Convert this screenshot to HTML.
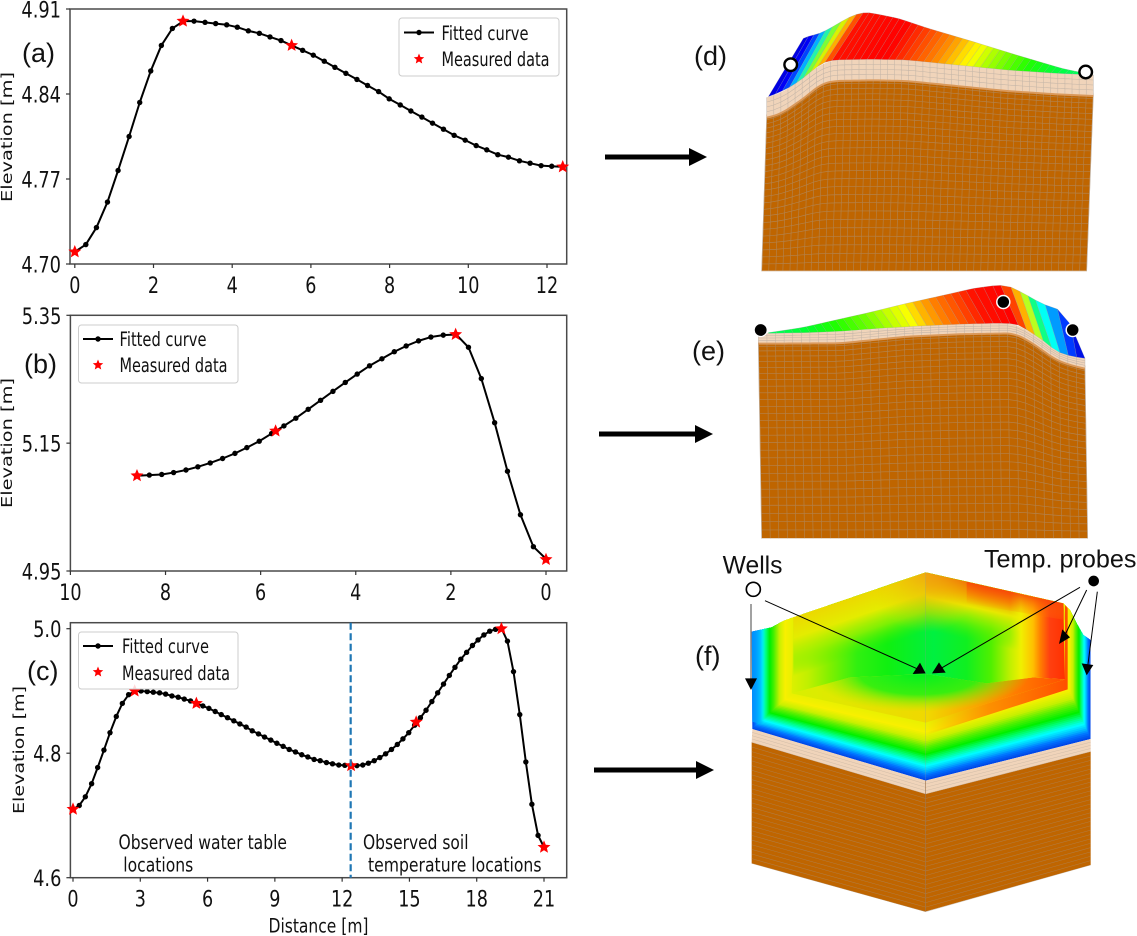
<!DOCTYPE html>
<html lang="en">
<head>
<meta charset="utf-8">
<title>Elevation profiles and 3D mesh</title>
<style>
html,body{margin:0;padding:0;background:#fff;width:1137px;height:936px;overflow:hidden}
svg{display:block}
.mpl{font-family:"DejaVu Sans","Liberation Sans",sans-serif;fill:#111}
.lab{font-family:"Liberation Sans",sans-serif;fill:#111}
</style>
</head>
<body>
<svg id="root" xmlns="http://www.w3.org/2000/svg" width="1137" height="936" viewBox="0 0 1137 936">
  <defs>
    <linearGradient id="backH" gradientUnits="userSpaceOnUse" x1="275" y1="0" x2="1095" y2="0">
      <stop offset="0" stop-color="#dcf000"/><stop offset="0.06" stop-color="#c0f000"/>
      <stop offset="0.14" stop-color="#80f000"/><stop offset="0.24" stop-color="#30f010"/>
      <stop offset="0.35" stop-color="#10f010"/><stop offset="0.52" stop-color="#00f040"/>
      <stop offset="0.64" stop-color="#10f020"/><stop offset="0.73" stop-color="#50f000"/>
      <stop offset="0.80" stop-color="#c0f000"/><stop offset="1" stop-color="#e8f000"/>
    </linearGradient>
    <linearGradient id="redWall" gradientUnits="userSpaceOnUse" x1="930" y1="0" x2="1095" y2="0">
      <stop offset="0" stop-color="#e8f000" stop-opacity="0"/><stop offset="0.2" stop-color="#f0f000"/>
      <stop offset="0.42" stop-color="#ffc000"/><stop offset="0.55" stop-color="#ff8000"/>
      <stop offset="0.72" stop-color="#ff4010"/><stop offset="1" stop-color="#ff3000"/>
    </linearGradient>
    <linearGradient id="rimRed" gradientUnits="userSpaceOnUse" x1="900" y1="147" x2="885" y2="212">
      <stop offset="0" stop-color="#f84808" stop-opacity="0.9"/><stop offset="1" stop-color="#ff8000" stop-opacity="0"/>
    </linearGradient>
    <linearGradient id="rimLeft" gradientUnits="userSpaceOnUse" x1="677" y1="97" x2="731" y2="256">
      <stop offset="0" stop-color="#ecd800"/><stop offset="0.35" stop-color="#e4ec00"/>
      <stop offset="0.65" stop-color="#a0f000" stop-opacity="0.75"/><stop offset="1" stop-color="#40f000" stop-opacity="0"/>
    </linearGradient>
    <linearGradient id="rimRight" gradientUnits="userSpaceOnUse" x1="677" y1="97" x2="640" y2="262">
      <stop offset="0" stop-color="#f05808"/><stop offset="0.22" stop-color="#f0a000"/>
      <stop offset="0.42" stop-color="#e8e800"/><stop offset="0.68" stop-color="#90f000" stop-opacity="0.7"/>
      <stop offset="1" stop-color="#40f000" stop-opacity="0"/>
    </linearGradient>
    <radialGradient id="rimTop" gradientUnits="userSpaceOnUse" cx="677" cy="97" r="180">
      <stop offset="0" stop-color="#f0a810" stop-opacity="0.95"/><stop offset="1" stop-color="#f0d000" stop-opacity="0"/>
    </radialGradient>
    <linearGradient id="floorH" gradientUnits="userSpaceOnUse" x1="275" y1="0" x2="1090" y2="0">
      <stop offset="0" stop-color="#d8f000"/><stop offset="0.5" stop-color="#f0d800"/>
      <stop offset="0.75" stop-color="#ff9000"/><stop offset="1" stop-color="#ff5000"/>
    </linearGradient>
    <radialGradient id="floorC" gradientUnits="userSpaceOnUse" cx="0" cy="0" r="1" gradientTransform="translate(660 400) scale(330 115)">
      <stop offset="0" stop-color="#00f020"/><stop offset="0.55" stop-color="#30f010" stop-opacity="0.95"/>
      <stop offset="1" stop-color="#a0f000" stop-opacity="0"/>
    </radialGradient>
    <linearGradient id="lipRight" gradientUnits="userSpaceOnUse" x1="677" y1="0" x2="1095" y2="0">
      <stop offset="0" stop-color="#ff8000" stop-opacity="0"/><stop offset="0.45" stop-color="#ff8000" stop-opacity="0.85"/>
      <stop offset="1" stop-color="#ff5000"/>
    </linearGradient>
    <linearGradient id="leftBlue" gradientUnits="userSpaceOnUse" x1="155" y1="0" x2="195" y2="0">
      <stop offset="0" stop-color="#0090ff"/><stop offset="0.7" stop-color="#00b8ff" stop-opacity="0.7"/>
      <stop offset="1" stop-color="#00e0ff" stop-opacity="0"/>
    </linearGradient>
    <clipPath id="fClip">
      <polygon points="155,275 215,262 250,243 280,232 677,97 1090,190 1110,210 1130,250 1150,285 1172,300 1172,597 677,722 157,567"/>
    </clipPath>
  </defs>

  <g id="profiles"></g>

  <!-- legend a -->
  <g>
    <rect x="399" y="18" width="160" height="58" rx="3" fill="#fff" fill-opacity="0.85" stroke="#ccc"/>
    <line x1="404" x2="434" y1="32.5" y2="32.5" stroke="#000" stroke-width="2"/>
    <circle cx="419" cy="32.5" r="2.7" fill="#000"/>
    <polygon class="lstar" data-c="419,59"></polygon>
    <text class="mpl" x="441.5" y="40" font-size="19.5" textLength="87" lengthAdjust="spacingAndGlyphs">Fitted curve</text>
    <text class="mpl" x="441.5" y="66" font-size="19.5" textLength="108" lengthAdjust="spacingAndGlyphs">Measured data</text>
  </g>
  <!-- legend b -->
  <g>
    <rect x="78.5" y="325" width="159.5" height="58" rx="3" fill="#fff" fill-opacity="0.85" stroke="#ccc"/>
    <line x1="83" x2="113" y1="339" y2="339" stroke="#000" stroke-width="2"/>
    <circle cx="98" cy="339" r="2.7" fill="#000"/>
    <polygon class="lstar" data-c="98,365"></polygon>
    <text class="mpl" x="119.5" y="346" font-size="19.5" textLength="87" lengthAdjust="spacingAndGlyphs">Fitted curve</text>
    <text class="mpl" x="119.5" y="372" font-size="19.5" textLength="108" lengthAdjust="spacingAndGlyphs">Measured data</text>
  </g>
  <!-- legend c -->
  <g>
    <rect x="78.5" y="632" width="159.5" height="57" rx="3" fill="#fff" fill-opacity="0.85" stroke="#ccc"/>
    <line x1="83" x2="113" y1="646" y2="646" stroke="#000" stroke-width="2"/>
    <circle cx="98" cy="646" r="2.7" fill="#000"/>
    <polygon class="lstar" data-c="98,672"></polygon>
    <text class="mpl" x="122" y="653" font-size="19.5" textLength="87" lengthAdjust="spacingAndGlyphs">Fitted curve</text>
    <text class="mpl" x="122" y="680" font-size="19.5" textLength="108" lengthAdjust="spacingAndGlyphs">Measured data</text>
  </g>

  <!-- annotations in c -->
  <text class="mpl" x="118.5" y="849" font-size="19.5" textLength="168.5" lengthAdjust="spacingAndGlyphs">Observed water table</text>
  <text class="mpl" x="123.3" y="871.5" font-size="19.5" textLength="70" lengthAdjust="spacingAndGlyphs">locations</text>
  <text class="mpl" x="363" y="849" font-size="19.5" textLength="105.5" lengthAdjust="spacingAndGlyphs">Observed soil</text>
  <text class="mpl" x="368" y="871.5" font-size="19.5" textLength="173.5" lengthAdjust="spacingAndGlyphs">temperature locations</text>
  <text class="mpl" x="268.5" y="932.5" font-size="19.5" textLength="100" lengthAdjust="spacingAndGlyphs">Distance [m]</text>

  <!-- y axis titles -->
  <text class="mpl" transform="translate(12,137) rotate(-90)" text-anchor="middle" font-size="15.5" textLength="130" lengthAdjust="spacingAndGlyphs">Elevation [m]</text>
  <text class="mpl" transform="translate(12,443) rotate(-90)" text-anchor="middle" font-size="15.5" textLength="130" lengthAdjust="spacingAndGlyphs">Elevation [m]</text>
  <text class="mpl" transform="translate(24,750) rotate(-90)" text-anchor="middle" font-size="15.5" textLength="128" lengthAdjust="spacingAndGlyphs">Elevation [m]</text>

  <!-- panel letters -->
  <text class="lab" x="22" y="62" font-size="27">(a)</text>
  <text class="lab" x="24" y="373" font-size="27">(b)</text>
  <text class="lab" x="27" y="680" font-size="27">(c)</text>
  <text class="lab" x="694" y="65" font-size="27">(d)</text>
  <text class="lab" x="692" y="360" font-size="27">(e)</text>
  <text class="lab" x="695" y="665" font-size="27">(f)</text>

  <!-- connecting arrows -->
  <g>
    <rect x="605" y="154.5" width="86" height="5" fill="#000"/><polygon points="689,148 707,157 689,166" fill="#000"/>
  </g>
  <g>
    <rect x="599" y="431.5" width="98" height="5" fill="#000"/><polygon points="695,425 713,434 695,443" fill="#000"/>
  </g>
  <g>
    <rect x="594" y="767.5" width="104" height="5" fill="#000"/><polygon points="696,761 714,770 696,779" fill="#000"/>
  </g>

  <!-- 3D panels -->
  <g id="meshD" transform="translate(740,0) scale(0.33333)"></g>
  <g>
    <circle cx="790.7" cy="64.7" r="6.3" fill="#fff" stroke="#000" stroke-width="2.4"/>
    <circle cx="1085.7" cy="72" r="6.3" fill="#fff" stroke="#000" stroke-width="2.4"/>
  </g>
  <g id="meshE" transform="translate(740,270) scale(0.33333)"></g>
  <g>
    <circle cx="760.7" cy="330" r="6.5" fill="#000" stroke="#fff" stroke-width="1.2"/>
    <circle cx="1003.3" cy="302" r="6.5" fill="#000" stroke="#fff" stroke-width="1.5"/>
    <circle cx="1072.7" cy="330" r="6.5" fill="#000" stroke="#fff" stroke-width="1.5"/>
  </g>

  <g id="meshF" transform="translate(700,540) scale(0.33333)">
    <polygon points="155,607 677,762 1172,635 1172,975 675,1115 155,970" fill="#bf6500"/>
    <polygon points="157,567 677,722 1172,597 1172,635 677,762 155,607" fill="#f0d4ba"/>
    <g id="fLayers"></g>
    <g clip-path="url(#fClip)">
      <g id="fRings"></g>
      <polygon points="155,260 195,260 195,555 155,545" fill="url(#leftBlue)"/>
      <polygon points="275,460 450,412 677,402 860,430 1000,412 1095,418 677,548" fill="url(#floorH)"/>
      <polygon points="275,460 450,412 677,402 860,430 1000,412 1095,418 677,548" fill="url(#floorC)"/>
      <polygon points="280,232 677,97 1090,190 1095,418 1000,412 860,430 677,402 450,412 275,460" fill="url(#backH)"/>
      <polygon points="280,232 677,97 677,330 280,440" fill="url(#rimLeft)"/>
      <polygon points="677,97 1090,190 1090,400 677,330" fill="url(#rimRight)"/>
      <polygon points="280,232 677,97 1090,190 1090,300 280,300" fill="url(#rimTop)"/>
      <polygon points="930,154 1090,190 1095,418 1000,412 930,422" fill="url(#redWall)"/>
      <polygon points="800,125 1090,190 1095,240 800,190" fill="url(#rimRed)"/>
      <polygon points="677,548 1095,418 1095,190 1103,205 1103,448 677,585" fill="url(#lipRight)"/>
      <line x1="677" y1="97" x2="677" y2="722" stroke="#999" stroke-opacity="0.35" stroke-width="2"/>
    </g>
    <line x1="677" y1="722" x2="676" y2="1115" stroke="#a07850" stroke-width="2"/>
    <text class="lab" x="68" y="100" font-size="74">Wells</text>
    <text class="lab" x="852" y="82" font-size="75.5">Temp. probes</text>
    <circle cx="160" cy="148" r="21" fill="#fff" stroke="#000" stroke-width="5"/>
    <circle cx="1181" cy="123" r="16" fill="#000"/>
    <g>
      <line x1="153" y1="192" x2="153" y2="425" stroke="#444" stroke-width="3"/><polygon points="153,450 135,415 171,415" fill="#000"/>
    </g>
    <g>
      <line x1="195" y1="182" x2="655" y2="388" stroke="#000" stroke-width="3"/><polygon points="677,400 638,402 660,368" fill="#000"/>
    </g>
    <g>
      <line x1="1140" y1="142" x2="718" y2="388" stroke="#000" stroke-width="3"/><polygon points="696,400 737,398 717,367" fill="#000"/>
    </g>
    <g>
      <line x1="1160" y1="150" x2="1095" y2="285" stroke="#000" stroke-width="3"/><polygon points="1077,312 1110,292 1087,268" fill="#000"/>
    </g>
    <g>
      <line x1="1192" y1="155" x2="1163" y2="380" stroke="#000" stroke-width="3"/><polygon points="1160,406 1180,375 1145,370" fill="#000"/>
    </g>
  </g>
</svg>

<script>
// ---------- Chart data ----------
const aDistance = [0,0.28,0.55,0.83,1.10,1.38,1.65,1.93,2.20,2.48,2.76,3.03,3.31,3.58,3.86,4.13,4.41,4.69,4.96,5.24,5.51,5.79,6.06,6.34,6.61,6.89,7.17,7.44,7.72,7.99,8.27,8.54,8.82,9.09,9.37,9.64,9.92,10.20,10.47,10.75,11.02,11.30,11.57,11.85,12.12,12.40];
const aElevation = [4.710,4.716,4.730,4.751,4.777,4.805,4.833,4.859,4.880,4.894,4.900,4.900,4.899,4.898,4.897,4.895,4.892,4.890,4.887,4.884,4.880,4.876,4.872,4.867,4.862,4.857,4.852,4.847,4.842,4.836,4.831,4.826,4.821,4.816,4.811,4.806,4.802,4.7975,4.794,4.790,4.788,4.785,4.783,4.781,4.7805,4.780];
const aMeasuredX = [0,2.75,5.51,12.4];
const aMeasuredY = [4.710,4.900,4.880,4.780];
const aXTicks = [0,2,4,6,8,10,12];
const aXLabels = ['0','2','4','6','8','10','12'];
const aYTicks = [4.70,4.77,4.84,4.91];
const aYLabels = ['4.70','4.77','4.84','4.91'];

const bDistance = [0,0.265,0.537,0.81,1.08,1.36,1.63,1.89,2.16,2.42,2.68,2.94,3.19,3.45,3.71,3.97,4.22,4.48,4.74,5.00,5.26,5.51,5.77,6.03,6.29,6.54,6.80,7.06,7.32,7.57,7.83,8.08,8.34,8.60];
const bElevation = [4.969,4.988,5.038,5.106,5.182,5.251,5.300,5.320,5.319,5.316,5.310,5.302,5.293,5.282,5.271,5.258,5.245,5.231,5.217,5.203,5.189,5.177,5.165,5.153,5.143,5.134,5.126,5.119,5.113,5.108,5.104,5.101,5.100,5.099];
const bMeasuredX = [0,1.9,5.685,8.6];
const bMeasuredY = [4.968,5.320,5.169,5.099];
const bXTicks = [10,8,6,4,2,0];
const bXLabels = ['10','8','6','4','2','0'];
const bYTicks = [4.95,5.15,5.35];
const bYLabels = ['4.95','5.15','5.35'];

const cDistance = [0,0.28,0.55,0.83,1.10,1.38,1.65,1.93,2.20,2.48,2.76,3.03,3.31,3.58,3.86,4.13,4.41,4.69,4.96,5.24,5.51,5.79,6.06,6.34,6.61,6.89,7.17,7.44,7.72,7.99,8.27,8.54,8.82,9.09,9.37,9.64,9.92,10.20,10.47,10.75,11.02,11.30,11.57,11.85,12.12,12.40,12.66,12.92,13.17,13.43,13.68,13.94,14.20,14.46,14.71,14.97,15.23,15.49,15.74,16.00,16.26,16.52,16.78,17.03,17.29,17.55,17.81,18.06,18.32,18.58,18.84,19.11,19.37,19.64,19.92,20.19,20.46,20.735,21.00];
const cElevation = [4.710,4.716,4.730,4.751,4.777,4.805,4.833,4.859,4.880,4.894,4.900,4.900,4.899,4.898,4.897,4.895,4.892,4.890,4.887,4.884,4.880,4.876,4.872,4.867,4.862,4.857,4.852,4.847,4.842,4.836,4.831,4.826,4.821,4.816,4.811,4.806,4.802,4.7975,4.794,4.790,4.788,4.785,4.783,4.781,4.7805,4.780,4.780,4.781,4.784,4.788,4.793,4.799,4.806,4.814,4.823,4.833,4.845,4.857,4.869,4.883,4.897,4.911,4.925,4.938,4.951,4.962,4.973,4.982,4.990,4.996,4.999,5.000,4.980,4.931,4.862,4.786,4.718,4.668,4.649];
const cMeasuredX = [0,2.75,5.5,12.4,15.3,19.1,21];
const cMeasuredY = [4.710,4.900,4.880,4.780,4.850,5.000,4.649];
const cXTicks = [0,3,6,9,12,15,18,21];
const cXLabels = ['0','3','6','9','12','15','18','21'];
const cYTicks = [4.6,4.8,5.0];
const cYLabels = ['4.6','4.8','5.0'];
const cDivider = [12.38];

// ---------- Helpers ----------
const SVGNS = 'http://www.w3.org/2000/svg';
function add(parent, tag, attrs){
  const el = document.createElementNS(SVGNS, tag);
  for(const k in attrs){ el.setAttribute(k, attrs[k]); }
  parent.appendChild(el);
  return el;
}
function linear(d0,d1,r0,r1){ return function(v){ return r0 + (v-d0)*(r1-r0)/(d1-d0); }; }
function starPoints(cx,cy,R){
  const pts=[];
  for(let i=0;i<10;i++){
    const r = i%2===0 ? R : R*0.45;
    const a = -Math.PI/2 + i*Math.PI/5;
    pts.push((cx+r*Math.cos(a)).toFixed(2)+','+(cy+r*Math.sin(a)).toFixed(2));
  }
  return pts.join(' ');
}
function hexToRgb(h){ return [parseInt(h.substr(1,2),16),parseInt(h.substr(3,2),16),parseInt(h.substr(5,2),16)]; }
function ramp(stops,x){
  if(x<=stops[0][0]) return stops[0][1];
  for(let i=1;i<stops.length;i++){
    if(x<=stops[i][0]){
      const t=(x-stops[i-1][0])/(stops[i][0]-stops[i-1][0]);
      const a=hexToRgb(stops[i-1][1]), b=hexToRgb(stops[i][1]);
      return 'rgb('+[0,1,2].map(function(j){return Math.round(a[j]+(b[j]-a[j])*t);}).join(',')+')';
    }
  }
  return stops[stops.length-1][1];
}
function interp(poly,x,col){
  col = col||1;
  if(x<=poly[0][0]) return poly[0][col];
  for(let i=1;i<poly.length;i++){
    if(x<=poly[i][0]){
      const t=(x-poly[i-1][0])/(poly[i][0]-poly[i-1][0]);
      return poly[i-1][col]+(poly[i][col]-poly[i-1][col])*t;
    }
  }
  return poly[poly.length-1][col];
}
function smoothPoly(poly,h){
  const x0=poly[0][0], x1=poly[poly.length-1][0], n=120, cols=poly[0].length, out=[];
  for(let i=0;i<=n;i++){
    const x=x0+(x1-x0)*i/n, row=[x];
    const reach=Math.min(h,x-x0,x1-x);
    for(let c=1;c<cols;c++){
      let s=0;
      for(let k=-4;k<=4;k++){ s+=interp(poly,x+reach*k/4,c); }
      row.push(s/9);
    }
    out.push(row);
  }
  return out;
}

// ---------- Profile panels ----------
const profiles = document.getElementById('profiles');
function drawProfile(key, box, sx, sy, dist, elev, mx, my, xt, xl, yt, yl, markerR){
  const g = add(profiles,'g',{});
  
  

  const frame = add(g,'rect',{x:box.l,y:box.t,width:box.r-box.l,height:box.b-box.t,fill:'#fff',stroke:'#4a4a4a','stroke-width':1.5});
  
  

  xt.forEach(function(v,i){
    const x = sx(v);
    const tick = add(g,'line',{x1:x,x2:x,y1:box.b,y2:box.b+4,stroke:'#333','stroke-width':1.2});
    
    
    const label = add(g,'text',{'class':'mpl','text-anchor':'middle','font-size':22,transform:'translate('+x+','+(box.b+29)+') scale(0.8,1)'});
    label.textContent = xl[i];
    
    
  });
  yt.forEach(function(v,i){
    const y = sy(v);
    const tick = add(g,'line',{x1:box.l-4,x2:box.l,y1:y,y2:y,stroke:'#333','stroke-width':1.2});
    
    
    const label = add(g,'text',{'class':'mpl','text-anchor':'end','font-size':22,transform:'translate('+(box.l-9)+','+(y+8.5)+') scale(0.81,1)'});
    label.textContent = yl[i];
    
    
  });

  const pts = dist.map(function(d,i){ return sx(d).toFixed(2)+','+sy(elev[i]).toFixed(2); }).join(' ');
  const line = add(g,'polyline',{points:pts,fill:'none',stroke:'#000','stroke-width':2,'stroke-linejoin':'round'});
  
  

  dist.forEach(function(d,i){
    const dot = add(g,'circle',{cx:sx(d),cy:sy(elev[i]),r:markerR,fill:'#000'});
    
    
  });
  mx.forEach(function(d,i){
    const star = add(g,'polygon',{points:starPoints(sx(d),sy(my[i]),6.8),fill:'#ff0000'});
    
    
  });
  return g;
}

drawProfile('a',{l:70,r:566.7,t:9,b:264},linear(0,12,74.8,547),linear(4.70,4.91,264,9),aDistance,aElevation,aMeasuredX,aMeasuredY,aXTicks,aXLabels,aYTicks,aYLabels,2.7);
drawProfile('b',{l:70.4,r:566.7,t:315.3,b:571},linear(10,0,70.4,546),linear(4.95,5.35,571,315.3),bDistance,bElevation,bMeasuredX,bMeasuredY,bXTicks,bXLabels,bYTicks,bYLabels,2.7);
const cSx = linear(0,21,73,544);
const cSy = linear(4.6,5.0,877.7,628.7);
const gC = drawProfile('c',{l:70.4,r:566.7,t:622.7,b:877.7},cSx,cSy,cDistance,cElevation,cMeasuredX,cMeasuredY,cXTicks,cXLabels,cYTicks,cYLabels,2.7);
cDivider.forEach(function(v){
  const x = cSx(v);
  const dl = add(gC,'line',{x1:x,x2:x,y1:622.7,y2:877.7,stroke:'#1f77b4','stroke-width':2.2,'stroke-dasharray':'7,3.5'});
  
  
});

// legend stars
document.querySelectorAll('.lstar').forEach(function(s){
  const c = s.getAttribute('data-c').split(',');
  s.setAttribute('points', starPoints(+c[0],+c[1],5.5));
  s.setAttribute('fill','#ff0000');
});

// ---------- 3D mesh blocks ----------
function drawBlock(parent, key, rawPairs, stops, N, rawTb, rawBb, botL, botR, botY, rows){
  const pairs = smoothPoly(rawPairs,14);
  const tb = smoothPoly(rawTb,24);
  const bb = smoothPoly(rawBb,24);
  const xL = bb[0][0], xR = bb[bb.length-1][0];

  // soil
  const soilPts = bb.map(function(p){return p[0].toFixed(1)+','+p[1].toFixed(1);}).join(' ');
  const soil = add(parent,'polygon',{points:soilPts+' '+botR+','+botY+' '+botL+','+botY,fill:'#bf6500',stroke:'#d8c0a8','stroke-width':2});
  
  

  let meshD = '';
  for(let i=0;i<=N;i++){
    const u=i/N, x=xL+(xR-xL)*u, y=interp(bb,x), bx=botL+(botR-botL)*u;
    meshD+='M'+x.toFixed(1)+' '+y.toFixed(1)+'L'+bx.toFixed(1)+' '+botY+' ';
  }
  for(let r=1;r<rows;r++){
    const v=Math.pow(r/rows,1.2);
    meshD+='M';
    for(let i=0;i<=N;i++){
      const u=i/N, x=xL+(xR-xL)*u, y=interp(bb,x), bx=botL+(botR-botL)*u;
      const damp = y+(botY-y)*v;
      meshD+=(x+(bx-x)*v).toFixed(1)+' '+damp.toFixed(1)+(i<N?'L':' ');
    }
  }
  const mesh = add(parent,'path',{d:meshD,fill:'none',stroke:'#a8a098','stroke-opacity':0.5,'stroke-width':2});
  
  

  const edge = add(parent,'polyline',{points:soilPts,fill:'none',stroke:'#d9995c','stroke-width':12});
  
  

  // peat band
  const tbPts = tb.map(function(p){return p[0].toFixed(1)+','+p[1].toFixed(1);}).join(' ');
  const bbRev = bb.slice().reverse().map(function(p){return p[0].toFixed(1)+','+p[1].toFixed(1);}).join(' ');
  const band = add(parent,'polygon',{points:tbPts+' '+bbRev,fill:'#f0d4ba'});
  
  

  let bandD='';
  for(let i=0;i<=N;i++){
    const x=xL+(xR-xL)*i/N;
    bandD+='M'+x.toFixed(1)+' '+interp(tb,x).toFixed(1)+'L'+x.toFixed(1)+' '+interp(bb,x).toFixed(1)+' ';
  }
  for(let r=1;r<4;r++){
    bandD+='M';
    for(let i=0;i<=N;i++){
      const x=xL+(xR-xL)*i/N, a=interp(tb,x), b=interp(bb,x);
      bandD+=x.toFixed(1)+' '+(a+(b-a)*r/4).toFixed(1)+(i<N?'L':' ');
    }
  }
  const bandMesh = add(parent,'path',{d:bandD,fill:'none',stroke:'#b0a8a0','stroke-opacity':0.7,'stroke-width':1.6});
  
  

  // coloured strips
  const x0 = pairs[0][0], x1 = pairs[pairs.length-1][0];
  for(let i=0;i<N;i++){
    const a=x0+(x1-x0)*i/N, b=x0+(x1-x0)*(i+1)/N;
    const poly = [
      [a,interp(pairs,a,1)],[b,interp(pairs,b,1)],
      [interp(pairs,b,2),interp(pairs,b,3)],[interp(pairs,a,2),interp(pairs,a,3)]
    ].map(function(p){return p[0].toFixed(1)+','+p[1].toFixed(1);}).join(' ');
    const strip = add(parent,'polygon',{points:poly,fill:ramp(stops,(a+b)/2),stroke:'#999','stroke-opacity':0.45,'stroke-width':1.5});
    
    
  }
}

drawBlock(document.getElementById('meshD'),'d',
  [[85,290,190,115],[100,285,200,110],[150,262,240,100],[185,238,270,85],[225,205,320,55],[255,185,350,42],[285,180,378,37],[320,179,405,41],[400,178,475,55],[500,180,565,85],[650,195,700,125],[800,210,830,165],[950,220,965,205],[1060,225,1060,225]],
  [[85,'#0000d8'],[125,'#0000ff'],[150,'#0080ff'],[170,'#00e8ff'],[190,'#40ff60'],[215,'#c0ff00'],[235,'#ffe000'],[255,'#ff7000'],[285,'#ff1000'],[430,'#ff0000'],[520,'#ff5000'],[590,'#ff9000'],[650,'#ffe000'],[680,'#ffff00'],[730,'#b0ff00'],[850,'#20ff00'],[950,'#00ff40'],[1060,'#00ff70']],
  46,
  [[80,292],[120,280],[150,262],[200,225],[240,195],[280,180],[400,178],[500,180],[650,195],[800,210],[950,220],[1060,225]],
  [[80,350],[120,340],[150,320],[200,285],[240,250],[280,240],[400,238],[500,240],[650,255],[800,270],[950,280],[1060,285]],
  65,1040,813,26);

drawBlock(document.getElementById('meshE'),'e',
  [[85,190,85,188],[200,188,190,172],[300,184,278,152],[420,175,385,128],[540,168,500,100],[650,163,600,78],[760,160,700,55],[810,160,760,47],[840,165,785,45],[860,180,815,50],[880,192,835,62],[905,208,860,75],[950,245,900,98],[980,255,945,117],[1000,260,975,120],[1035,265,1035,265]],
  [[85,'#00ff60'],[200,'#00ff30'],[300,'#20ff00'],[400,'#70ff00'],[480,'#d0ff00'],[530,'#ffff00'],[560,'#ffc000'],[620,'#ff8000'],[680,'#ff5000'],[750,'#ff1000'],[830,'#ff0000'],[840,'#ff2000'],[865,'#ff9000'],[890,'#ffff00'],[905,'#70ff40'],[925,'#00ff90'],[950,'#00ffff'],[975,'#0090ff'],[1000,'#0030ff'],[1035,'#0000d8']],
  38,
  [[55,190],[85,190],[300,185],[500,170],[650,163],[820,160],[860,180],[900,205],[950,245],[1000,260],[1035,265]],
  [[55,218],[300,217],[500,197],[650,190],[820,187],[860,205],[900,232],[950,268],[1000,285],[1035,293]],
  65,1043,805,28);

// panel f soil layers
(function(){
  const g = document.getElementById('fLayers');
  let d='';
  for(let r=0;r<=26;r++){
    const v=r/26;
    d+='M155 '+(607+363*v).toFixed(1)+'L677 '+(762+353*v).toFixed(1)+'L1172 '+(635+340*v).toFixed(1)+' ';
  }
  const p = add(g,'path',{d:d,fill:'none',stroke:'#a89078','stroke-opacity':0.55,'stroke-width':1.6});
  
  
  let d2='';
  for(let r=1;r<4;r++){
    const v=r/4;
    d2+='M156 '+(567+40*v).toFixed(1)+'L677 '+(722+40*v).toFixed(1)+'L1172 '+(597+38*v).toFixed(1)+' ';
  }
  const q = add(g,'path',{d:d2,fill:'none',stroke:'#b8a898','stroke-opacity':0.6,'stroke-width':1.4});
  
  
})();

// panel f surface rings
(function(){
  const g = document.getElementById('fRings');
  const ringStops = [[0,'#0048e8'],[0.08,'#0070ff'],[0.16,'#00c0ff'],[0.24,'#00ffff'],[0.34,'#00ff80'],[0.44,'#00f000'],[0.55,'#50f000'],[0.68,'#c8f000'],[0.82,'#f8f000'],[1,'#e8f000']];
  const N = 34;
  for(let k=0;k<=N;k++){
    const s=k/N;
    const xL=155+s*120, yL=567-s*107, yB=722-s*174, xR=1172-s*77, yR=597-s*177;
    const pts='M'+xL+' 0L'+xR+' 0L'+xR+' '+yR+'L677 '+yB+'L'+xL+' '+yL+'Z';
    const ring = add(g,'path',{d:pts,fill:ramp(ringStops,s)});
    
    
  }
})();
</script>
</body>
</html>
